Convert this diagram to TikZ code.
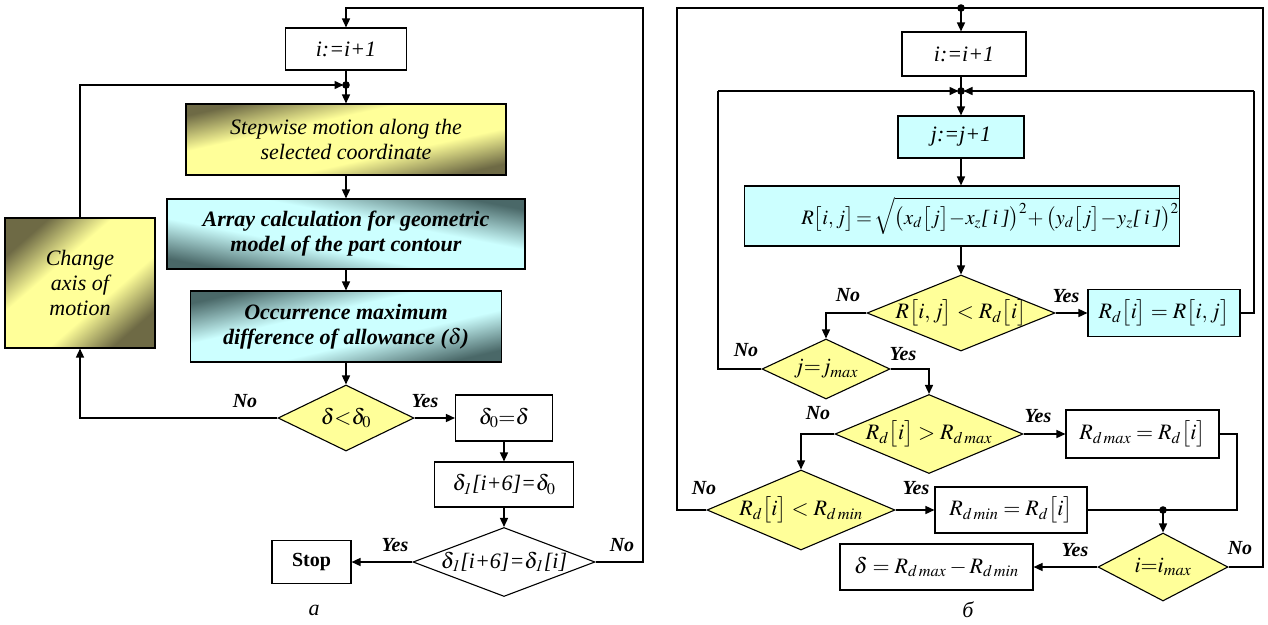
\documentclass[tikz,border=0pt]{standalone}
\usepackage{amsmath}
\usepackage{mathptmx}
\usepackage[no-math]{fontspec}
\setmainfont{Liberation Serif}
\usetikzlibrary{shapes.geometric,arrows.meta,calc}
\definecolor{ylight}{HTML}{FFFF99}
\definecolor{ydark}{HTML}{6E6A45}
\definecolor{clight}{HTML}{CCFFFF}
\definecolor{cdark}{HTML}{4A6868}
\pgfdeclareverticalshading{yshd}{100bp}{color(0bp)=(ydark); color(25bp)=(ydark); color(40bp)=(ylight); color(60bp)=(ylight); color(75bp)=(ydark); color(100bp)=(ydark)}
\pgfdeclareverticalshading{cshd}{100bp}{color(0bp)=(cdark); color(25bp)=(cdark); color(42bp)=(clight); color(58bp)=(clight); color(75bp)=(cdark); color(100bp)=(cdark)}
\newcommand\fsz{\fontsize{22}{25}\selectfont}
\begin{document}
\begin{tikzpicture}[x=1pt,y=-1pt,
  box/.style={draw, line width=1.1pt, rectangle, inner sep=0pt, align=center, font=\fsz\itshape},
  dia/.style={diamond, draw, line width=1.1pt, inner sep=0pt, fill=ylight},
  dtxt/.style={font=\fsz\itshape, inner sep=0pt},
  yshade/.style={shade, shading=yshd},
  cshade/.style={shade, shading=cshd},
  conn/.style={line width=1.5pt, -{Triangle[length=9pt,width=8pt]}},
  plain/.style={line width=1.5pt},
  lab/.style={font=\fontsize{20}{22}\selectfont\bfseries\itshape, inner sep=0pt},
  captxt/.style={font=\fsz\itshape, inner sep=0pt}]
\useasboundingbox (0,0) rectangle (1268,624);
% ---------------- left chart ----------------
\node[box, minimum width=121pt, minimum height=42pt] (iA) at (346,49) {i:=i+1};
\coordinate (jA) at (346,85);
\node[box, yshade, shading angle=12.5, minimum width=320pt, minimum height=71pt] (step) at (346,139.5) {Stepwise motion along the\\selected coordinate};
\node[box, cshade, shading angle=-11, font=\fsz\bfseries\itshape, minimum width=358pt, minimum height=70pt] (arr) at (346,234) {Array calculation for geometric\\model of the part contour};
\node[box, cshade, shading angle=13, font=\fsz\bfseries\itshape, minimum width=311pt, minimum height=71pt] (occ) at (346,326.5) {Occurrence maximum\\difference of allowance ($\boldsymbol{\delta}$)};
\node[dia, minimum width=136pt, minimum height=66pt, label={[dtxt]center:{$\delta{<}\delta_0$}}] (dA) at (346,418) {};
\node[box, yshade, shading angle=41, minimum width=150pt, minimum height=130pt] (chg) at (80,283) {Change\\axis of\\motion};
\node[box, minimum width=97pt, minimum height=46pt] (d0) at (504,418) {$\delta_0{=}\delta$};
\node[box, minimum width=139pt, minimum height=45pt] (d1) at (504,484.5) {$\delta_{\mathit{1}}$[i+6]=$\delta_0$};
\node[dia, fill=white, minimum width=182pt, minimum height=69pt, label={[dtxt]center:{$\delta_{\mathit{1}}$[i+6]=$\delta_{\mathit{1}}$[i]}}] (dB) at (504,562) {};
\node[box, font=\fontsize{20}{22}\selectfont\bfseries, minimum width=79pt, minimum height=43pt] (stop) at (311.5,562) {Stop};
\coordinate (rA) at (643,8);
\coordinate (tA) at (346,8);
\draw[conn] (dB.east) -| (rA) -- (tA) -- (iA.north);
\draw[plain] (iA.south) -- (jA);
\draw[conn] (jA) -- (step.north);
\draw[conn, shorten >=2.5pt] (chg.north) |- (jA);
\fill (jA) circle (3.8pt);
\draw[conn] (step.south) -- (arr.north);
\draw[conn] (arr.south) -- (occ.north);
\draw[conn] (occ.south) -- (dA.north);
\draw[conn] (dA.west) -| (chg.south);
\draw[conn] (dA.east) -- (d0.west);
\draw[conn] (d0.south) -- (d1.north);
\draw[conn] (d1.south) -- (dB.north);
\draw[conn] (dB.west) -- (stop.east);
\node[lab] (nA1) at (245,401) {No};
\node[lab] (yA1) at (425,401) {Yes};
\node[lab] (yA2) at (395,545) {Yes};
\node[lab] (nA2) at (622,545) {No};
\node[captxt] (capA) at (314,610) {a};
% ---------------- right chart ----------------
\coordinate (tB) at (961,8);
\coordinate (oL) at (677,8);
\coordinate (oR) at (1263,8);
\node[box, minimum width=124pt, minimum height=44pt] (iB) at (964,54) {i:=i+1};
\coordinate (jB) at (961,91);
\coordinate (iL) at (718,91);
\coordinate (iR) at (1254,91);
\node[box, fill=clight, minimum width=126pt, minimum height=42pt] (jbox) at (961,137) {j:=j+1};
\node[box, fill=clight, font=\fontsize{20.5}{24}\selectfont, minimum width=435pt, minimum height=60pt] (Rbox) at (962,216) {\hspace*{56pt}$R\bigl[i,j\bigr]\!=\!\sqrt{\bigl(x_d\bigl[j\bigr]\!-\!x_z\textit{[\,i\,]}\bigr)^2\!+\bigl(y_d\bigl[j\bigr]\!-\!y_z\textit{[\,i\,]}\bigr)^2}$};
\node[dia, minimum width=188pt, minimum height=76pt, label={[dtxt]center:{$R\bigl[i,j\bigr]<R_d\bigl[i\bigr]$}}] (dC) at (961,313) {};
\node[box, fill=clight, minimum width=152pt, minimum height=47pt] (rd) at (1164,313) {$R_d\bigl[i\bigr]=R\bigl[i,j\bigr]$};
\node[dia, minimum width=128pt, minimum height=60pt, label={[dtxt]center:{$j{=}j_{\mathit{max}}$}}] (dJ) at (826,369) {};
\node[dia, minimum width=188pt, minimum height=79pt, label={[dtxt]center:{$R_d\bigl[i\bigr]>R_{d\,\mathit{max}}$}}] (dMax) at (929,434) {};
\node[box, minimum width=153pt, minimum height=48pt] (mx) at (1142.5,434) {$R_{d\,\mathit{max}}=R_d\bigl[i\bigr]$};
\node[dia, minimum width=188pt, minimum height=80pt, label={[dtxt]center:{$R_d\bigl[i\bigr]<R_{d\,\mathit{min}}$}}] (dMin) at (801,510) {};
\node[box, minimum width=152pt, minimum height=46pt] (mn) at (1011,510) {$R_{d\,\mathit{min}}=R_d\bigl[i\bigr]$};
\coordinate (m2) at (1163,510);
\coordinate (cR) at (1237,510);
\node[dia, minimum width=130pt, minimum height=68pt, label={[dtxt]center:{$i{=}i_{\mathit{max}}$}}] (dI) at (1163,567) {};
\node[box, minimum width=193pt, minimum height=46pt] (dl) at (936.5,567) {$\delta=R_{d\,\mathit{max}}-R_{d\,\mathit{min}}$};
\draw[plain] (dMin.west) -| (oL) -- (oR) |- (dI.east);
\draw[conn] (tB) -- (iB.north -| tB);
\fill (tB) circle (3.8pt);
\draw[plain] (iB.south -| jB) -- (jB);
\draw[conn] (jB) -- (jbox.north);
\draw[plain] (dJ.west) -| (iL);
\draw[conn, shorten >=2.5pt] (iL) -- (jB);
\draw[plain] (rd.east) -| (iR);
\draw[conn, shorten >=2.5pt] (iR) -- (jB);
\fill (jB) circle (3.8pt);
\draw[conn] (jbox.south) -- (Rbox.north -| jbox);
\draw[conn] (Rbox.south -| dC) -- (dC.north);
\draw[conn] (dC.east) -- (rd.west);
\draw[conn] (dC.west) -| (dJ.north);
\draw[conn] (dJ.east) -| (dMax.north);
\draw[conn] (dMax.east) -- (mx.west);
\draw[conn] (dMax.west) -| (dMin.north);
\draw[conn] (dMin.east) -- (mn.west);
\draw[plain] (mx.east) -| (cR) -- (m2);
\draw[plain] (mn.east) -- (m2);
\fill (m2) circle (3.8pt);
\draw[conn] (m2) -- (dI.north);
\draw[conn] (dI.west) -- (dl.east);
\node[lab] (nB1) at (848,295) {No};
\node[lab] (yB1) at (1066,296) {Yes};
\node[lab] (nB2) at (746,350) {No};
\node[lab] (yB2) at (903,354) {Yes};
\node[lab] (nB3) at (818,413) {No};
\node[lab] (yB3) at (1038,416) {Yes};
\node[lab] (nB4) at (704,488) {No};
\node[lab] (yB4) at (916,488) {Yes};
\node[lab] (yB5) at (1075,550) {Yes};
\node[lab] (nB5) at (1240,548) {No};
\node[captxt] (capB) at (968,610) {б};
\end{tikzpicture}
\end{document}
